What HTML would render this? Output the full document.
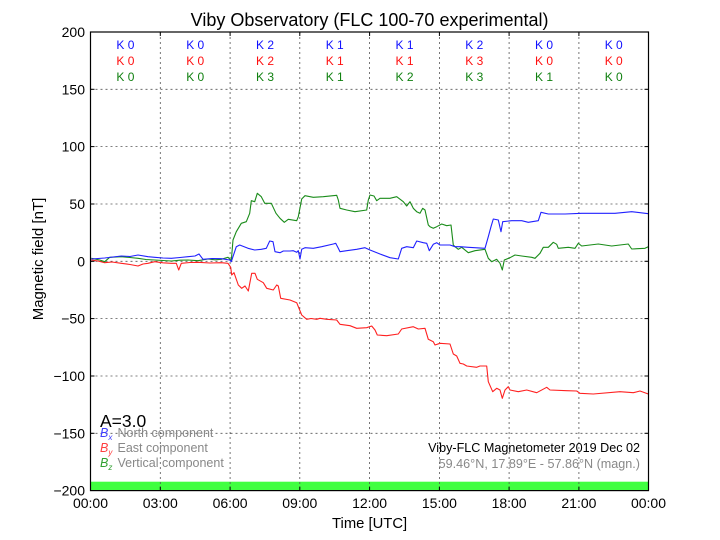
<!DOCTYPE html>
<html><head><meta charset="utf-8"><style>
html,body{margin:0;padding:0;background:#fff;}
svg{display:block;}
text{font-family:"Liberation Sans","DejaVu Sans",sans-serif;}
</style></head><body>
<svg width="720" height="540" viewBox="0 0 720 540" xmlns="http://www.w3.org/2000/svg">
<rect width="720" height="540" fill="#fff"/>
<!-- green bar -->
<rect x="90.5" y="481.7" width="558" height="9" fill="#40ff40"/>
<!-- grid -->
<g stroke="#555" stroke-width="0.8" stroke-dasharray="2,3" fill="none">
<line x1="160.3" y1="32" x2="160.3" y2="490.6"/>
<line x1="230.1" y1="32" x2="230.1" y2="490.6"/>
<line x1="299.8" y1="32" x2="299.8" y2="490.6"/>
<line x1="369.6" y1="32" x2="369.6" y2="490.6"/>
<line x1="439.4" y1="32" x2="439.4" y2="490.6"/>
<line x1="509.1" y1="32" x2="509.1" y2="490.6"/>
<line x1="578.9" y1="32" x2="578.9" y2="490.6"/>
<line x1="90.5" y1="89.3" x2="648.5" y2="89.3"/>
<line x1="90.5" y1="146.6" x2="648.5" y2="146.6"/>
<line x1="90.5" y1="204" x2="648.5" y2="204"/>
<line x1="90.5" y1="261.3" x2="648.5" y2="261.3"/>
<line x1="90.5" y1="318.6" x2="648.5" y2="318.6"/>
<line x1="90.5" y1="376" x2="648.5" y2="376"/>
<line x1="90.5" y1="433.3" x2="648.5" y2="433.3"/>
</g>
<!-- series -->
<g fill="none" stroke-width="1.1" stroke-linejoin="round">
<polyline stroke="#ff2020" points="91.3,260 98,261 104.7,262.7 112,262 121.3,263.3 130,264.5 138,266 143,264 148,263.3 154.7,261.7 163,262.8 171.3,263.3 176.3,263.3 178.7,270 181.3,263.3 190,262.5 198,262.3 210,263 221.3,262.7 228,263.3 230.7,267.3 231.7,275 234,272.7 238.3,285 241.7,288.3 245,286 248.3,291 251.7,273.3 255,273.3 257.3,279.3 263.3,282.7 266.7,288.3 273.3,290 276.7,285 278.3,286 280.7,298.3 290,300 296.7,302.7 301.7,315 306.7,319.3 311,318.5 316.7,319.3 320,318.3 326.7,319.3 336.7,320 340,324.3 350,325.7 356.7,328.3 366.7,327.7 371.7,326 375,330 377.3,335 386.7,335.7 398.3,334 401.7,329 413.3,326.7 418.3,329 425,328.3 428.3,339.3 433.3,341.7 435,345 440,343.3 450,344 453.3,354 456.7,356 460,363.3 463.3,364 466.7,366 476.7,367.3 480,366 486.7,366 488.3,381.7 492.7,391.7 496.7,388.3 500,390 502.3,398.3 505,390 508.3,386.7 510,390 518.3,391.7 526.7,390 536.7,392.7 546.7,387.3 550,390 566.7,390.7 576.7,391 580,393.3 593.3,394 620,391.7 633.3,392.7 640,391 648.3,394"/>
<polyline stroke="#1a8c1a" points="91.3,258.3 99.7,260 104.7,261.7 109.7,257.3 121.3,256.7 130,257.5 138,258.3 146,259.5 154.7,260 163,260.5 171.3,261 180,260.2 188,260 198,260.7 208,259 215,259.8 221.3,259.3 228,257.3 231.3,260.7 233,240 236.3,231.7 241.3,223.3 246.3,221.7 249.7,213.3 251.3,200.7 254.7,201.7 257.3,193.3 261.3,196.7 264.7,203.3 271.3,203.3 276,213.3 280,218.3 284.3,222.3 288.3,219.3 296.7,220.7 298.3,216.7 301.7,199 305,195.7 313.3,197.3 323.3,196.7 336.7,195.3 338.3,200 340,208.3 346.7,210 355,211.7 366.7,210 368.3,200 370,195 374,196 376.7,200.7 380,198.3 390,198.3 396.7,196.7 403.3,201.7 406.7,206 410,201.7 413.3,208.3 416.7,211.7 420,213.3 422.7,208.3 425,210 428.3,225 430,226.7 433.3,228.3 436.7,226.7 441.7,224 446.7,225.7 451,225 453.3,245 455,246.7 458.3,249.3 461.7,247.3 468.3,252.7 475,250.7 485,249.3 488.3,258.3 491.7,261.7 496.7,259.3 500,263.3 502.3,270 504.3,260 510,257.7 515,255 521.7,256 531.7,257.3 535,258.3 540,253.3 543.3,247.3 548.3,247.3 553.3,242.3 556.7,244.3 558.3,248.3 568.3,247.3 575,248.3 578.3,243.3 581.7,246 598.3,244 611.7,246 628.3,244 631.7,249 645,248.3 648.3,246.7"/>
<polyline stroke="#2020ff" points="91.3,259 104.7,258 121.3,256 130,256.5 138,255 148,256.7 154.7,257.3 163,258 171.3,258.3 180,257.5 188,256.7 195,256 199,254 203,259.3 212,258.5 221.3,258.7 229.7,260 231.3,261.7 236.3,246.7 239.7,245 248,248.3 254.7,250 261.3,249.3 266.3,248.3 269.7,241 273,241.7 275,251.7 280,252.7 283.3,251 290,251 293.3,250.7 296.7,252.3 298.3,250.7 300,259 301.7,249.3 305,247.7 313.3,248.3 321.7,246.7 333.3,244 335.7,243.3 338.3,248.3 340,251.7 346.7,250.7 356.7,249.3 365,247.7 370,250 380,254 390,257.7 398.3,259 401.7,248.3 406.7,246.7 413.3,247.7 416.7,241 423.3,242.7 426.7,243.3 429.3,250.7 433.3,244.3 436.7,242.7 440,245 450,245 455,246.7 460,246.7 468.3,247.3 485,248.3 488.3,236.7 491,226.7 493.3,219 498.3,220 501,231.7 502.7,221.7 511.7,220.7 521.7,220.7 528.3,222.3 538.3,220.7 541,212.3 548.3,214 565,214 581.7,213.3 598.3,213.3 615,213.3 631.7,211.7 648.3,213.7"/>
</g>
<!-- axes frame -->
<rect x="90.5" y="32" width="558" height="458.6" fill="none" stroke="#000" stroke-width="1.2"/>
<!-- ticks -->
<g stroke="#000" stroke-width="1">
<line x1="160.3" y1="490.6" x2="160.3" y2="486.6"/><line x1="160.3" y1="32" x2="160.3" y2="36"/>
<line x1="230.1" y1="490.6" x2="230.1" y2="486.6"/><line x1="230.1" y1="32" x2="230.1" y2="36"/>
<line x1="299.8" y1="490.6" x2="299.8" y2="486.6"/><line x1="299.8" y1="32" x2="299.8" y2="36"/>
<line x1="369.6" y1="490.6" x2="369.6" y2="486.6"/><line x1="369.6" y1="32" x2="369.6" y2="36"/>
<line x1="439.4" y1="490.6" x2="439.4" y2="486.6"/><line x1="439.4" y1="32" x2="439.4" y2="36"/>
<line x1="509.1" y1="490.6" x2="509.1" y2="486.6"/><line x1="509.1" y1="32" x2="509.1" y2="36"/>
<line x1="578.9" y1="490.6" x2="578.9" y2="486.6"/><line x1="578.9" y1="32" x2="578.9" y2="36"/>
<line x1="90.5" y1="89.3" x2="94.5" y2="89.3"/><line x1="648.5" y1="89.3" x2="644.5" y2="89.3"/>
<line x1="90.5" y1="146.6" x2="94.5" y2="146.6"/><line x1="648.5" y1="146.6" x2="644.5" y2="146.6"/>
<line x1="90.5" y1="204" x2="94.5" y2="204"/><line x1="648.5" y1="204" x2="644.5" y2="204"/>
<line x1="90.5" y1="261.3" x2="94.5" y2="261.3"/><line x1="648.5" y1="261.3" x2="644.5" y2="261.3"/>
<line x1="90.5" y1="318.6" x2="94.5" y2="318.6"/><line x1="648.5" y1="318.6" x2="644.5" y2="318.6"/>
<line x1="90.5" y1="376" x2="94.5" y2="376"/><line x1="648.5" y1="376" x2="644.5" y2="376"/>
<line x1="90.5" y1="433.3" x2="94.5" y2="433.3"/><line x1="648.5" y1="433.3" x2="644.5" y2="433.3"/>
</g>
<!-- y tick labels -->
<g font-size="14" text-anchor="end" fill="#000">
<text x="85" y="37">200</text>
<text x="85" y="94.3">150</text>
<text x="85" y="151.6">100</text>
<text x="85" y="209">50</text>
<text x="85" y="266.3">0</text>
<text x="85" y="323.6">−50</text>
<text x="85" y="381">−100</text>
<text x="85" y="438.3">−150</text>
<text x="85" y="495.6">−200</text>
</g>
<!-- x tick labels -->
<g font-size="14" text-anchor="middle" fill="#000">
<text x="90.5" y="508">00:00</text>
<text x="160.3" y="508">03:00</text>
<text x="230.1" y="508">06:00</text>
<text x="299.8" y="508">09:00</text>
<text x="369.6" y="508">12:00</text>
<text x="439.4" y="508">15:00</text>
<text x="509.1" y="508">18:00</text>
<text x="578.9" y="508">21:00</text>
<text x="648.5" y="508">00:00</text>
</g>
<text x="369.6" y="528" font-size="14.8" text-anchor="middle">Time [UTC]</text>
<text transform="translate(43,259) rotate(-90)" font-size="15" text-anchor="middle">Magnetic field [nT]</text>
<text x="369.6" y="26" font-size="18" text-anchor="middle">Viby Observatory (FLC 100-70 experimental)</text>
<!-- K indices -->
<g font-size="12" text-anchor="middle">
<g fill="#1010ff">
<text x="125.4" y="49">K 0</text><text x="195.2" y="49">K 0</text><text x="265" y="49">K 2</text><text x="334.7" y="49">K 1</text><text x="404.5" y="49">K 1</text><text x="474.3" y="49">K 2</text><text x="544" y="49">K 0</text><text x="613.7" y="49">K 0</text>
</g>
<g fill="#ff1010">
<text x="125.4" y="65">K 0</text><text x="195.2" y="65">K 0</text><text x="265" y="65">K 2</text><text x="334.7" y="65">K 1</text><text x="404.5" y="65">K 1</text><text x="474.3" y="65">K 3</text><text x="544" y="65">K 0</text><text x="613.7" y="65">K 0</text>
</g>
<g fill="#108010">
<text x="125.4" y="81">K 0</text><text x="195.2" y="81">K 0</text><text x="265" y="81">K 3</text><text x="334.7" y="81">K 1</text><text x="404.5" y="81">K 2</text><text x="474.3" y="81">K 3</text><text x="544" y="81">K 1</text><text x="613.7" y="81">K 0</text>
</g>
</g>
<!-- A index and legend -->
<text x="100" y="427" font-size="17.5">A=3.0</text>
<g font-size="12.5">
<text x="100" y="437" fill="#4040ff" font-family="Liberation Serif,serif" font-style="italic">B<tspan font-size="8" dy="3">x</tspan></text>
<text x="117.5" y="437" fill="#888">North component</text>
<text x="100" y="452" fill="#ff4040" font-family="Liberation Serif,serif" font-style="italic">B<tspan font-size="8" dy="3">y</tspan></text>
<text x="117.5" y="452" fill="#888">East component</text>
<text x="100" y="467" fill="#30a030" font-family="Liberation Serif,serif" font-style="italic">B<tspan font-size="8" dy="3">z</tspan></text>
<text x="117.5" y="467" fill="#888">Vertical component</text>
</g>
<text x="640" y="452" font-size="12.6" text-anchor="end" fill="#000">Viby-FLC Magnetometer 2019 Dec 02</text>
<text x="640" y="468" font-size="12.6" text-anchor="end" fill="#888">59.46°N, 17.89°E - 57.86°N (magn.)</text>
</svg>
</body></html>
